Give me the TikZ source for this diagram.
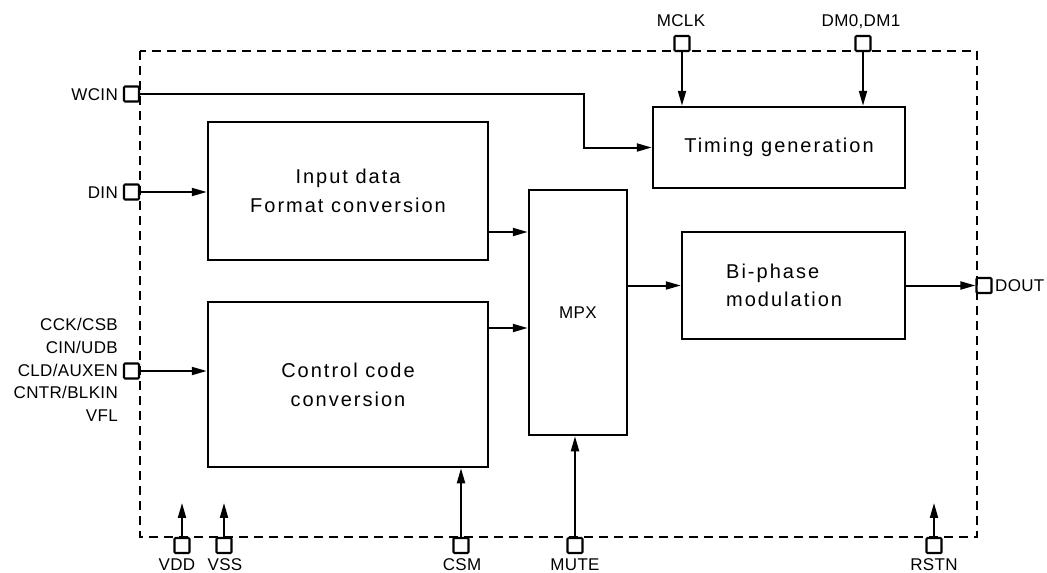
\documentclass[tikz,border=0pt]{standalone}
\usepackage{fontspec}
\setmainfont{Liberation Sans}
\newfontfamily\boxfont[LetterSpace=10]{Liberation Sans}
\newfontfamily\pinfont[LetterSpace=2]{Liberation Sans}
\usetikzlibrary{arrows.meta,calc}
\begin{document}
\begin{tikzpicture}[x=1pt,y=-1pt,
  blk/.style={draw,line width=2.5pt,inner sep=0pt,align=center,
    font=\boxfont\fontsize{20}{29}\selectfont},
  pinbox/.style={draw,line width=2.1pt,minimum size=15pt,inner sep=0pt,rounded corners=1pt},
  lbl/.style={inner sep=0pt,font=\pinfont\fontsize{17}{22.75}\selectfont},
  arr/.style={line width=2pt,-{Triangle[length=15pt,width=8pt]}},
  border/.style={line width=1.7pt,dash pattern=on 9pt off 6pt}]
\useasboundingbox (0,0) rectangle (1047,573);
\fill[white] (0,0) rectangle (1047,573);
% border
\draw[border] (140,51) rectangle (977,537);
% blocks
\node[blk,minimum width=280pt,minimum height=138pt] (inbox) at (348,191) {Input data\\Format conversion};
\node[blk,minimum width=280pt,minimum height=165pt] (ctrl) at (348,384.5) {Control code\\conversion};
\node[blk,minimum width=98pt,minimum height=245pt,font=\pinfont\fontsize{17}{20}\selectfont] (mpx) at (578,312.5) {MPX};
\node[blk,minimum width=252pt,minimum height=81pt] (timing) at (779,147.5) {Timing generation};
\node[blk,minimum width=223pt,minimum height=107pt] (biphase) at (793.5,285.5) {};
\node[inner sep=0pt,anchor=west,align=left,font=\boxfont\fontsize{20}{28}\selectfont] (bptext) at (726,285) {Bi-phase\\modulation};
% pins
\node[pinbox] (wcin) at (131.5,94) {};
\node[pinbox] (din) at (131.5,192) {};
\node[pinbox] (cld) at (131.5,371) {};
\node[pinbox] (mclk) at (682,43.5) {};
\node[pinbox] (dm) at (863,43.5) {};
\node[pinbox] (dout) at (984,285.5) {};
\node[pinbox] (vdd) at (182,545.5) {};
\node[pinbox] (vss) at (224,545.5) {};
\node[pinbox] (csm) at (461,545.5) {};
\node[pinbox] (mute) at (575,545.5) {};
\node[pinbox] (rstn) at (934,545.5) {};
% labels
\node[lbl,anchor=base east] (lwcin) at (118,100) {WCIN};
\node[lbl,anchor=base east] (ldin) at (118,198) {DIN};
\node[lbl,anchor=east,align=right] (lctrl) at (118,370) {CCK/CSB\\CIN/UDB\\CLD/AUXEN\\CNTR/BLKIN\\VFL};
\node[lbl,anchor=base] (lmclk) at (681,26) {MCLK};
\node[lbl,anchor=base] (ldm) at (861,26) {DM0,DM1};
\node[lbl,anchor=base west] (ldout) at (995,291) {DOUT};
\node[lbl,anchor=base] (lvdd) at (177,570) {VDD};
\node[lbl,anchor=base] (lvss) at (225,570) {VSS};
\node[lbl,anchor=base] (lcsm) at (462,570) {CSM};
\node[lbl,anchor=base] (lmute) at (575,570) {MUTE};
\node[lbl,anchor=base] (lrstn) at (934,570) {RSTN};
% connectors
\draw[arr] (wcin.east) -- ++(444,0) |- (timing.west);
\draw[arr] (mclk.south) -- (mclk.south |- timing.north);
\draw[arr] (dm.south) -- (dm.south |- timing.north);
\draw[arr] (din.east) -- (din.east -| inbox.west);
\draw[arr] (cld.east) -- (cld.east -| ctrl.west);
\coordinate (ia) at ([yshift=-41pt]inbox.east);
\draw[arr] (ia) -- (ia -| mpx.west);
\coordinate (ca) at ([yshift=56.5pt]ctrl.east);
\draw[arr] (ca) -- (ca -| mpx.west);
\draw[arr] (biphase.west -| mpx.east) -- (biphase.west);
\draw[arr] (biphase.east) -- (dout.west);
\draw[arr] (csm.north) -- (csm.north |- ctrl.south);
\draw[arr] (mute.north) -- (mute.north |- mpx.south);
\draw[arr] (vdd.north) -- ++(0,-34);
\draw[arr] (vss.north) -- ++(0,-34);
\draw[arr] (rstn.north) -- ++(0,-34);
\end{tikzpicture}
\end{document}
